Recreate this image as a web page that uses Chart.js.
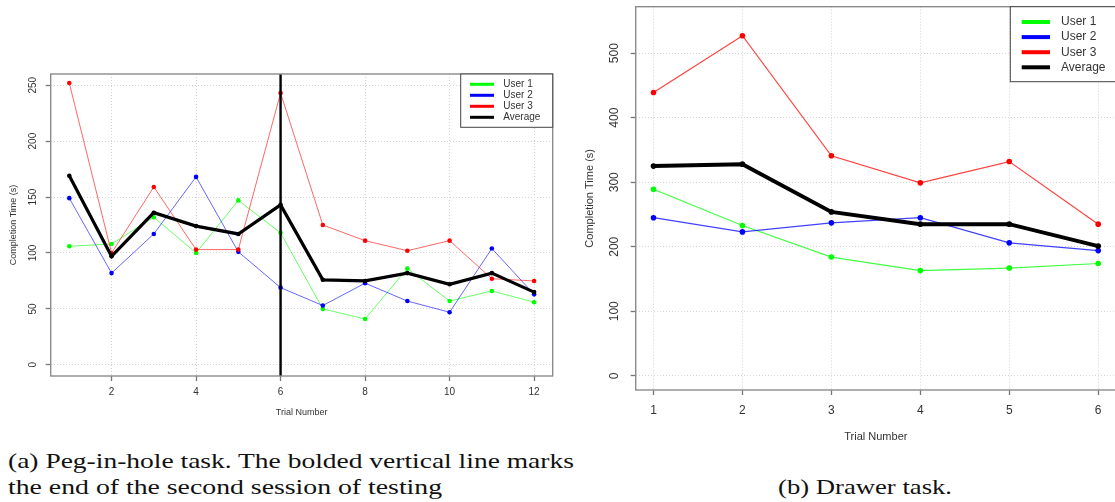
<!DOCTYPE html>
<html>
<head>
<meta charset="utf-8">
<script src="https://cdn.jsdelivr.net/npm/chart.js@4.4.0/dist/chart.umd.min.js"></script>
<style>
  html, body { margin: 0; padding: 0; background: #fff; width: 1115px; height: 502px; overflow: hidden; position: relative; }
  .holder { position: absolute; }
  .cap { position: absolute; font-family: "Liberation Serif", "DejaVu Serif", serif; font-size: 21px; line-height: 21px; color: #111; white-space: nowrap; transform-origin: 0 50%; }
</style>
</head>
<body>
<div class="holder" style="left:0;top:0;width:570px;height:430px"><canvas id="peg"></canvas></div>
<div class="holder" style="left:575px;top:0;width:545px;height:450px"><canvas id="drawer"></canvas></div>
<div class="cap" id="capA1" data-w="566" style="left:8px;top:451px">(a) Peg-in-hole task. The bolded vertical line marks</div>
<div class="cap" id="capA2" data-w="434" style="left:8px;top:477px">the end of the second session of testing</div>
<div class="cap" id="capB" data-w="174" style="left:778px;top:477px">(b) Drawer task.</div>
<script>
// series names / colours shared by both panels
const seriesNames = ['User 1', 'User 2', 'User 3', 'Average'];
const seriesColors = ['#00ff00', '#0000ff', '#ff0000', '#000000'];

// (a) peg-in-hole
const pegTrials = [1, 2, 3, 4, 5, 6, 7, 8, 9, 10, 11, 12];
const pegUser1 = [106, 108, 132, 100, 147, 118, 50, 41, 86, 57, 66, 56];
const pegUser2 = [149, 82, 117, 168, 101, 69, 53, 73, 57, 47, 104, 63];
const pegUser3 = [252, 100, 159, 103, 103, 243, 125, 111, 102, 111, 77, 75];
const pegAverage = [169, 97, 136, 124, 117, 143, 76, 75, 82, 72, 82, 65];
const pegXTicks = [2, 4, 6, 8, 10, 12];
const pegYTicks = [0, 50, 100, 150, 200, 250];
const sessionEndTrial = 6;

// (b) drawer
const drawerTrials = [1, 2, 3, 4, 5, 6];
const drawerUser1 = [289, 233, 184, 163, 167, 174];
const drawerUser2 = [245, 223, 237, 245, 206, 194];
const drawerUser3 = [439, 527, 341, 299, 332, 235];
const drawerAverage = [325, 328, 254, 235, 235, 201];
const drawerXTicks = [1, 2, 3, 4, 5, 6];
const drawerYTicks = [0, 100, 200, 300, 400, 500];

const FONT = '"Liberation Sans", Arial, sans-serif';

// R-style frame: box, rotated y labels, axis titles, legend
const rFrame = {
  id: 'rFrame',
  afterDatasetsDraw(chart, args, o) {
    const { ctx, chartArea: a } = chart;
    ctx.save();
    ctx.strokeStyle = '#8c8c8c';
    ctx.lineWidth = 1.4;
    ctx.strokeRect(a.left, a.top, a.right - a.left, a.bottom - a.top);
    ctx.restore();
  },
  afterDraw(chart, args, o) {
    const { ctx, chartArea: a, scales: { x, y } } = chart;
    ctx.save();
    ctx.fillStyle = '#333';
    ctx.textAlign = 'center';
    ctx.textBaseline = 'middle';
    ctx.font = `${o.tickSize}px ${FONT}`;
    x.ticks.forEach(t => ctx.fillText(String(t.value), x.getPixelForValue(t.value), a.bottom + o.xLabelGap));
    y.ticks.forEach(t => {
      ctx.save();
      ctx.translate(a.left - o.yLabelGap, y.getPixelForValue(t.value));
      ctx.rotate(-Math.PI / 2);
      ctx.fillText(String(t.value), 0, 0);
      ctx.restore();
    });
    ctx.font = `${o.titleSize}px ${FONT}`;
    ctx.fillText('Trial Number', (a.left + a.right) / 2, a.bottom + o.xTitleGap);
    ctx.save();
    ctx.translate(a.left - o.yTitleGap, (a.top + a.bottom) / 2);
    ctx.rotate(-Math.PI / 2);
    ctx.fillText('Completion Time (s)', 0, 0);
    ctx.restore();

    const L = o.legend;
    ctx.fillStyle = '#fff';
    ctx.fillRect(L.x, L.y, L.w, L.h);
    ctx.strokeStyle = '#444';
    ctx.lineWidth = 1;
    ctx.strokeRect(L.x, L.y, L.w, L.h);
    ctx.textAlign = 'left';
    ctx.font = `${L.size}px ${FONT}`;
    seriesNames.forEach((name, i) => {
      const ly = L.row0 + i * L.step;
      ctx.strokeStyle = seriesColors[i];
      ctx.lineWidth = L.lw;
      ctx.beginPath();
      ctx.moveTo(L.x1, ly);
      ctx.lineTo(L.x2, ly);
      ctx.stroke();
      ctx.fillStyle = '#333';
      ctx.fillText(name, L.tx, ly);
    });
    ctx.restore();
  }
};

function fade(hex, alpha) {
  const n = parseInt(hex.slice(1), 16);
  return `rgba(${n >> 16},${(n >> 8) & 255},${n & 255},${alpha})`;
}

function seriesSets(trials, lists, thin, thick, radius, lineAlpha) {
  return lists.map((vals, i) => ({
    label: seriesNames[i],
    data: trials.map((t, j) => ({ x: t, y: vals[j] })),
    borderColor: i === 3 ? seriesColors[i] : fade(seriesColors[i], lineAlpha),
    backgroundColor: seriesColors[i],
    pointBackgroundColor: seriesColors[i],
    borderWidth: i === 3 ? thick : thin,
    pointRadius: radius,
    pointBorderWidth: 0,
    tension: 0,
    order: 5 - i
  }));
}

function makeChart(id, c) {
  return new Chart(document.getElementById(id), {
    type: 'line',
    data: { datasets: c.datasets },
    options: {
      responsive: true,
      maintainAspectRatio: false,
      animation: false,
      devicePixelRatio: 1,
      events: [],
      layout: { padding: c.padding },
      plugins: { legend: { display: false }, tooltip: { enabled: false }, rFrame: c.frame },
      scales: {
        x: {
          type: 'linear', min: c.xRange[0], max: c.xRange[1],
          afterBuildTicks: s => { s.ticks = c.xTicks.map(v => ({ value: v })); },
          afterFit: s => { s.height = c.xAxisH; },
          ticks: { display: false },
          grid: { color: '#d4d4d4', lineWidth: 1, tickLength: 5, tickColor: '#777', tickWidth: 1.3, tickBorderDash: [] },
          border: { display: false, dash: [1, 2] }
        },
        y: {
          type: 'linear', min: c.yRange[0], max: c.yRange[1],
          afterBuildTicks: s => { s.ticks = c.yTicks.map(v => ({ value: v })); },
          afterFit: s => { s.width = c.yAxisW; },
          ticks: { display: false },
          grid: { color: '#d4d4d4', lineWidth: 1, tickLength: 5, tickColor: '#777', tickWidth: 1.3, tickBorderDash: [] },
          border: { display: false, dash: [1, 2] }
        }
      }
    },
    plugins: [rFrame]
  });
}

const pegYRange = [-10, 260];
const pegSets = seriesSets(pegTrials, [pegUser1, pegUser2, pegUser3, pegAverage], 1, 3.2, 2.3, 0.6);
pegSets.push({
  label: 'session end',
  data: [{ x: sessionEndTrial, y: pegYRange[0] }, { x: sessionEndTrial, y: pegYRange[1] }],
  borderColor: '#000', borderWidth: 2.4, pointRadius: 0, order: 0
});

makeChart('peg', {
  datasets: pegSets,
  xRange: [0.56, 12.44], yRange: pegYRange,
  xTicks: pegXTicks, yTicks: pegYTicks,
  padding: { left: 0, right: 17.3, top: 74, bottom: 0 },
  xAxisH: 54, yAxisW: 50.7,
  frame: {
    tickSize: 10, titleSize: 9,
    xLabelGap: 16.3, yLabelGap: 17.5, xTitleGap: 37, yTitleGap: 37,
    legend: { x: 460.7, y: 74, w: 92, h: 53.3, x1: 470, x2: 494, tx: 503.3, row0: 84.3, step: 11, size: 10, lw: 3 }
  }
});

makeChart('drawer', {
  datasets: seriesSets(drawerTrials, [drawerUser1, drawerUser2, drawerUser3, drawerAverage], 1.2, 4, 2.8, 0.75),
  xRange: [0.8, 6.2], yRange: [-22, 572],
  xTicks: drawerXTicks, yTicks: drawerYTicks,
  padding: { left: 0, right: 0, top: 6.7, bottom: 0 },
  xAxisH: 60, yAxisW: 60.7,
  frame: {
    tickSize: 12, titleSize: 11,
    xLabelGap: 20.7, yLabelGap: 20.7, xTitleGap: 47, yTitleGap: 45.7,
    legend: { x: 435.3, y: 6.7, w: 200, h: 75, x1: 446.7, x2: 475, tx: 486, row0: 22, step: 15.1, size: 12, lw: 4 }
  }
});

// fit caption widths to the reference
document.querySelectorAll('.cap').forEach(el => {
  const w = el.getBoundingClientRect().width;
  el.style.transform = `scaleX(${(+el.dataset.w / w).toFixed(3)})`;
});
</script>
</body>
</html>
